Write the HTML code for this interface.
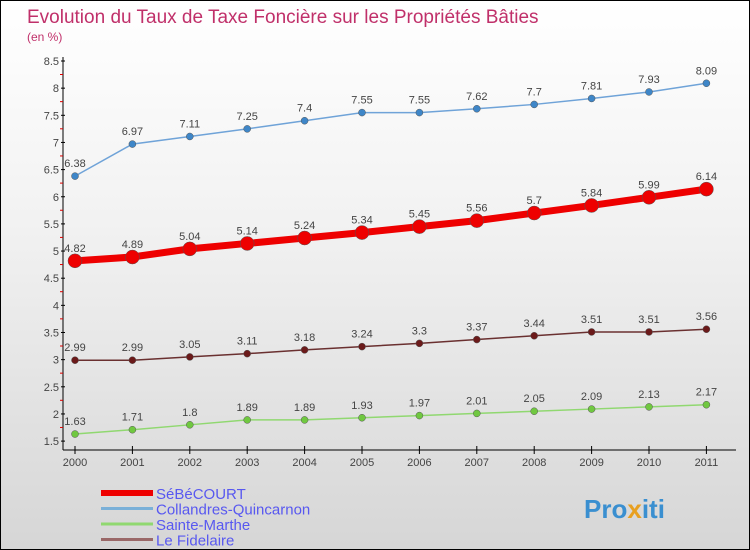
<!DOCTYPE html>
<html><head><meta charset="utf-8"><style>
body{margin:0;}
#wrap{width:748px;height:548px;border:1px solid #000;background:linear-gradient(#ffffff,#f2f2f2 40%,#d6d6d6);position:relative;overflow:hidden;font-family:"Liberation Sans",sans-serif;}
svg{position:absolute;left:0;top:0;}
</style></head><body>
<div id="wrap">
<svg id="chart" width="748" height="548">
<text x="26" y="22" font-size="19" fill="#c0306a">Evolution du Taux de Taxe Foncière sur les Propriétés Bâties</text>
<text x="26" y="40" font-size="12" fill="#c0306a">(en %)</text>
<text x="583" y="517" font-size="26" font-weight="bold" fill="#3a8fd0">Pro<tspan fill="#e8a020">x</tspan>iti</text>
</svg>
</div>
<script>
const years=[2000,2001,2002,2003,2004,2005,2006,2007,2008,2009,2010,2011];
const seriesNames=["SéBéCOURT","Collandres-Quincarnon","Sainte-Marthe","Le Fidelaire"];
const sebecourt=[4.82,4.89,5.04,5.14,5.24,5.34,5.45,5.56,5.7,5.84,5.99,6.14];
const collandres=[6.38,6.97,7.11,7.25,7.4,7.55,7.55,7.62,7.7,7.81,7.93,8.09];
const sainteMarthe=[1.63,1.71,1.8,1.89,1.89,1.93,1.97,2.01,2.05,2.09,2.13,2.17];
const fidelaire=[2.99,2.99,3.05,3.11,3.18,3.24,3.3,3.37,3.44,3.51,3.51,3.56];
const yTicks=[1.5,2,2.5,3,3.5,4,4.5,5,5.5,6,6.5,7,7.5,8,8.5];
const svg=document.getElementById('chart');
const NS='http://www.w3.org/2000/svg';
const X=i=>74+i*57.4;
const Y=v=>60+(8.5-v)*54.3;
function mk(t,a){const e=document.createElementNS(NS,t);for(const k in a)e.setAttribute(k,a[k]);svg.appendChild(e);return e;}
let ax=mk('line',{x1:62,y1:56,x2:62,y2:449,stroke:'#000'});


let bx=mk('line',{x1:62,y1:449,x2:735,y2:449,stroke:'#000'});


yTicks.forEach(v=>{
 const y=Y(v);
 let t=mk('line',{x1:60,y1:y,x2:64,y2:y,stroke:'#000'});
 
 
 let m=mk('line',{x1:59,y1:y+13.5,x2:62,y2:y+13.5,stroke:'#d00'});
 if(v===1.5)m.remove();
 let l=mk('text',{x:58,y:y+4,'font-size':11,'text-anchor':'end',fill:'#444'});
 l.textContent=String(v);
 
 
});
years.forEach((yr,i)=>{
 let t=mk('line',{x1:X(i),y1:445,x2:X(i),y2:453,stroke:'#000'});
 
 
 let l=mk('text',{x:X(i),y:465,'font-size':11,'text-anchor':'middle',fill:'#444'});
 l.textContent=yr;
 
 
});
function series(vals,color,dot,w,r,name){
 let p=mk('polyline',{points:vals.map((v,i)=>X(i)+','+Y(v)).join(' '),fill:'none',stroke:color,'stroke-width':w});
 
 
 vals.forEach((v,i)=>{
  let c=mk('circle',{cx:X(i),cy:Y(v),r:r,fill:dot,stroke:'#555','stroke-width':0.5});
  
  
  let l=mk('text',{x:X(i),y:Y(v)-9,'font-size':11,'text-anchor':'middle',fill:'#444'});
  l.textContent=String(v);
  
  
 });
}
series(collandres,'#6fa3d8','#3e86c8',1.5,3.5,'collandres');
series(fidelaire,'#6a3030','#6b1a1a',1.5,3.5,'fidelaire');
series(sainteMarthe,'#90d870','#70c840',1.5,3.5,'sainte-marthe');
series(sebecourt,'#ee0000','#ee0000',7,7,'sebecourt');
const legColors=['#ee0000','#7ab0d8','#90d870','#9a6868'];
const legW=[6,3,3,3];
seriesNames.forEach((n,i)=>{
 const y=492+i*15.5;
 let s=mk('line',{x1:100,y1:y,x2:152,y2:y,stroke:legColors[i],'stroke-width':legW[i]});
 
 
 let t=mk('text',{x:155,y:y+6,'font-size':15,fill:'#5858f0'});
 t.textContent=n;
 
 
});
</script>
</body></html>
